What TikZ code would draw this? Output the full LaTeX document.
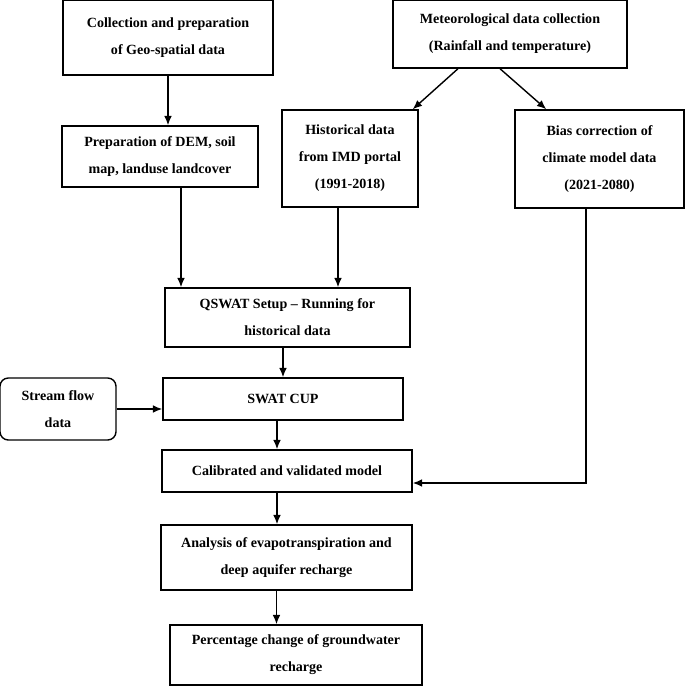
\documentclass[tikz,border=0pt]{standalone}
\usepackage{fontspec}
\setmainfont{Liberation Serif}
\usetikzlibrary{arrows.meta}

\begin{document}
\begin{tikzpicture}[x=0.03cm,y=-0.03cm,
	box/.style={draw,line width=1.2pt,align=center,inner sep=2pt,font=\fontsize{12}{23}\selectfont\bfseries},
	arrow/.style={-{Latex[length=2.8mm,width=2.3mm]},line width=1.2pt}]
	\useasboundingbox (0,0) rectangle (685,687);
	\node[box,minimum width=6.3cm,minimum height=2.25cm] (coll) at (168,37.5) {Collection and preparation \\ of Geo-spatial data};
	\node[box,minimum width=5.88cm,minimum height=1.83cm] (prep) at (160,156.5) {Preparation of DEM, soil \\ map, landuse landcover};
	\node[box,minimum width=7.02cm,minimum height=2.04cm] (met) at (510,34) {Meteorological data collection \\ (Rainfall and temperature)};
	\node[box,minimum width=4.08cm,minimum height=2.91cm] (hist) at (350,158.5) {Historical data \\ from IMD portal \\ (1991-2018)};
	\node[box,minimum width=5.07cm,minimum height=2.94cm] (bias) at (599.5,159) {Bias correction of \\ climate model data \\ (2021-2080)};
	\node[box,minimum width=7.35cm,minimum height=1.77cm] (qswat) at (287.5,317.5) {QSWAT Setup -- Running for \\ historical data};
	\node[box,rounded corners=0.25cm,minimum width=3.48cm,minimum height=1.86cm] (stream) at (58,409) {Stream flow \\ data};
	\node[box,minimum width=7.2cm,minimum height=1.26cm] (cup) at (283,399) {SWAT CUP};
	\node[box,minimum width=7.5cm,minimum height=1.26cm] (calib) at (287,471) {Calibrated and validated model};
	\node[box,minimum width=7.53cm,minimum height=1.95cm] (anal) at (286.5,557.5) {Analysis of evapotranspiration and \\ deep aquifer recharge};
	\node[box,minimum width=7.56cm,minimum height=1.8cm] (perc) at (296,655) {Percentage change of groundwater \\ recharge};

	\draw[arrow] (coll.south) -- (coll.south |- prep.north);
	\draw[arrow] ([xshift=-1.56cm]met.south) -- ([xshift=-0.18cm]hist.north east);
	\draw[arrow] ([xshift=-0.3cm]met.south) -- ([xshift=0.96cm]bias.north west);
	\draw[arrow] ([xshift=0.63cm]prep.south) -- ([xshift=0.63cm]prep.south |- qswat.north);
	\draw[arrow] ([xshift=-0.36cm]hist.south) -- ([xshift=-0.36cm]hist.south |- qswat.north);
	\draw[arrow] (cup |- qswat.south) -- (cup.north);
	\draw[arrow] (stream.east) -- (stream.east -| cup.west);
	\draw[arrow] ([xshift=-0.18cm]cup.south) -- ([xshift=-0.18cm]cup.south |- calib.north);
	\draw[arrow] ([xshift=-0.4cm]bias.south) |- ([yshift=-0.36cm]calib.east);
	\draw[arrow] ([xshift=-0.3cm]calib.south) -- ([xshift=-0.3cm]calib.south |- anal.north);
	\draw[arrow] ([xshift=-0.3cm]anal.south) -- ([xshift=-0.3cm]anal.south |- perc.north);
\end{tikzpicture}
\end{document}
